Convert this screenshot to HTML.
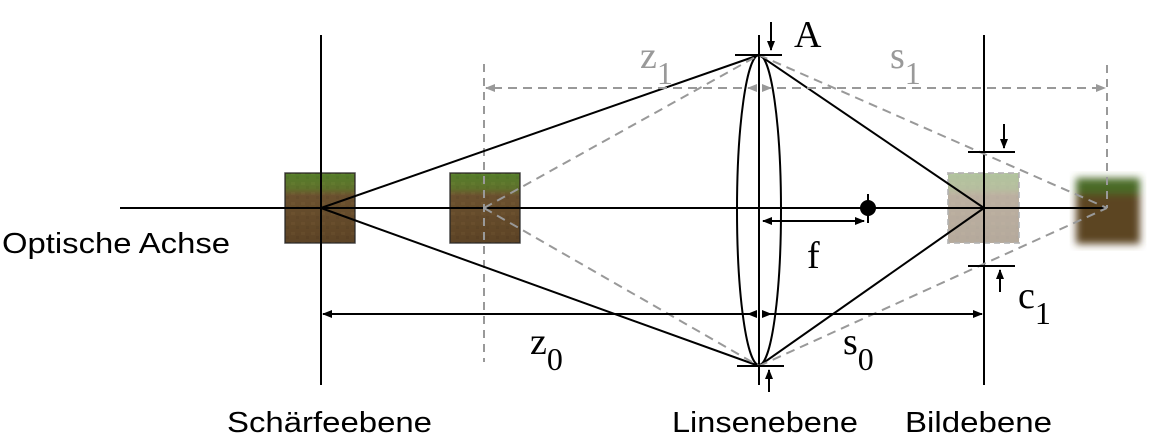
<!DOCTYPE html>
<html><head><meta charset="utf-8"><style>
html,body{margin:0;padding:0;background:#fff}
svg{display:block}
.s{font-family:"Liberation Sans",sans-serif;font-size:29px;fill:#000}
.m{font-family:"Liberation Serif",serif;font-size:38px}
</style></head><body>
<svg width="1158" height="445" viewBox="0 0 1158 445">
<defs>
 <marker id="ab" markerWidth="10" markerHeight="8" refX="9" refY="4" orient="auto" markerUnits="userSpaceOnUse"><path d="M0,0 L10,4 L0,8 z" fill="#000"/></marker>
 <marker id="abr" markerWidth="10" markerHeight="8" refX="9" refY="4" orient="auto-start-reverse" markerUnits="userSpaceOnUse"><path d="M0,0 L10,4 L0,8 z" fill="#000"/></marker>
 <marker id="ag" markerWidth="10" markerHeight="8" refX="9" refY="4" orient="auto" markerUnits="userSpaceOnUse"><path d="M0,0 L10,4 L0,8 z" fill="#999"/></marker>
 <linearGradient id="grass" x1="0" y1="0" x2="0" y2="1">
  <stop offset="0" stop-color="#4f8a2a"/><stop offset="0.22" stop-color="#5e7a2c"/><stop offset="0.32" stop-color="#6b5230"/><stop offset="1" stop-color="#5a4124"/>
 </linearGradient>
 <pattern id="dirt" width="10" height="10" patternUnits="userSpaceOnUse">
  <rect width="10" height="10" fill="#6a4e2c"/><rect x="1" y="2" width="4" height="3" fill="#8a6a40"/><rect x="6" y="6" width="3" height="3" fill="#4f3820"/>
 </pattern>
 <filter id="blur"><feGaussianBlur stdDeviation="4"/></filter>
</defs>

<g>
 <rect x="285" y="173" width="70" height="70" fill="url(#dirt)"/>
 <rect x="285" y="173" width="70" height="70" fill="url(#grass)" opacity="0.8" stroke="#222" stroke-width="1.5"/>
</g>
<g>
 <rect x="450" y="173" width="70" height="70" fill="url(#dirt)"/>
 <rect x="450" y="173" width="70" height="70" fill="url(#grass)" opacity="0.8" stroke="#222" stroke-width="1.5"/>
</g>
<g opacity="0.45">
 <rect x="948" y="173" width="71" height="70" fill="url(#dirt)"/>
 <rect x="948" y="173" width="71" height="70" fill="url(#grass)" opacity="0.8" stroke="#555" stroke-width="2" stroke-dasharray="6,4"/>
</g>
<g filter="url(#blur)">
 <rect x="1076" y="178" width="64" height="66" fill="#5c4424"/>
 <rect x="1076" y="178" width="64" height="16" fill="#4a6a25"/>
</g>

<line x1="321" y1="35" x2="321" y2="385" stroke="#000" stroke-width="2"/>
<line x1="759" y1="35" x2="759" y2="385" stroke="#000" stroke-width="2"/>
<line x1="984" y1="35" x2="984" y2="385" stroke="#000" stroke-width="2"/>
<line x1="120" y1="208" x2="1107" y2="208" stroke="#000" stroke-width="2"/>
<line x1="484" y1="64" x2="484" y2="362" stroke="#999" stroke-width="2" stroke-dasharray="8,6"/>
<line x1="1107" y1="65" x2="1107" y2="208" stroke="#999" stroke-width="2" stroke-dasharray="8,6"/>

<ellipse cx="759" cy="210" rx="22" ry="155" fill="none" stroke="#000" stroke-width="2"/>

<g stroke="#000" stroke-width="2" fill="none">
 <line x1="321" y1="208" x2="759" y2="55"/><line x1="321" y1="208" x2="759" y2="366"/>
 <line x1="759" y1="55" x2="984" y2="208"/><line x1="759" y1="366" x2="984" y2="208"/>
</g>
<g stroke="#999" stroke-width="2" stroke-dasharray="9,6" fill="none">
 <line x1="484" y1="208" x2="759" y2="55"/><line x1="484" y1="208" x2="759" y2="366"/>
 <line x1="759" y1="55" x2="1107" y2="208"/><line x1="759" y1="366" x2="1107" y2="208"/>
</g>

<g stroke="#000" stroke-width="2">
 <line x1="735" y1="55" x2="782" y2="55"/><line x1="737" y1="366" x2="784" y2="366"/>
 <line x1="771" y1="22" x2="771" y2="50" marker-end="url(#ab)"/>
 <line x1="769" y1="392" x2="769" y2="370" marker-end="url(#ab)"/>
</g>
<text x="794" y="47" class="m">A</text>

<g stroke="#000" stroke-width="2">
 <line x1="968" y1="152" x2="1015" y2="152"/><line x1="968" y1="266" x2="1015" y2="266"/>
 <line x1="1004" y1="124" x2="1004" y2="148" marker-end="url(#ab)"/>
 <line x1="1000" y1="292" x2="1000" y2="270" marker-end="url(#ab)"/>
</g>
<text x="1018" y="308" class="m">c<tspan font-size="32" dy="16">1</tspan></text>

<g>
 <circle cx="868" cy="208" r="8" fill="#000"/>
 <line x1="868" y1="194" x2="868" y2="223" stroke="#000" stroke-width="2"/>
</g>
<line x1="763" y1="221" x2="864" y2="221" stroke="#000" stroke-width="2" marker-start="url(#abr)" marker-end="url(#abr)"/>
<text x="807" y="268" class="m">f</text>

<line x1="757" y1="88" x2="486" y2="88" stroke="#999" stroke-width="2" stroke-dasharray="9,6" marker-end="url(#ag)"/>
<line x1="762" y1="88" x2="1105" y2="88" stroke="#999" stroke-width="2" stroke-dasharray="9,6" marker-end="url(#ag)"/>
<path d="M757,84 L747,88 L757,92" fill="#999"/>
<path d="M762,84 L772,88 L762,92" fill="#999"/>
<text x="640" y="68" class="m" fill="#999">z<tspan font-size="32" dy="16">1</tspan></text>
<text x="890" y="68" class="m" fill="#999">s<tspan font-size="32" dy="16">1</tspan></text>

<line x1="757" y1="314" x2="323" y2="314" stroke="#000" stroke-width="2" marker-end="url(#ab)"/>
<line x1="762" y1="314" x2="982" y2="314" stroke="#000" stroke-width="2" marker-end="url(#ab)"/>
<path d="M757,310 L747,314 L757,318" fill="#000"/>
<path d="M762,310 L772,314 L762,318" fill="#000"/>
<text x="530" y="354" class="m">z<tspan font-size="32" dy="16">0</tspan></text>
<text x="843" y="354" class="m">s<tspan font-size="32" dy="16">0</tspan></text>

<text x="2" y="253" class="s" textLength="228" lengthAdjust="spacingAndGlyphs">Optische Achse</text>
<text x="227" y="432" class="s" textLength="205" lengthAdjust="spacingAndGlyphs">Schärfeebene</text>
<text x="672" y="432" class="s" textLength="186" lengthAdjust="spacingAndGlyphs">Linsenebene</text>
<text x="905" y="432" class="s" textLength="147" lengthAdjust="spacingAndGlyphs">Bildebene</text>
</svg>
</body></html>
